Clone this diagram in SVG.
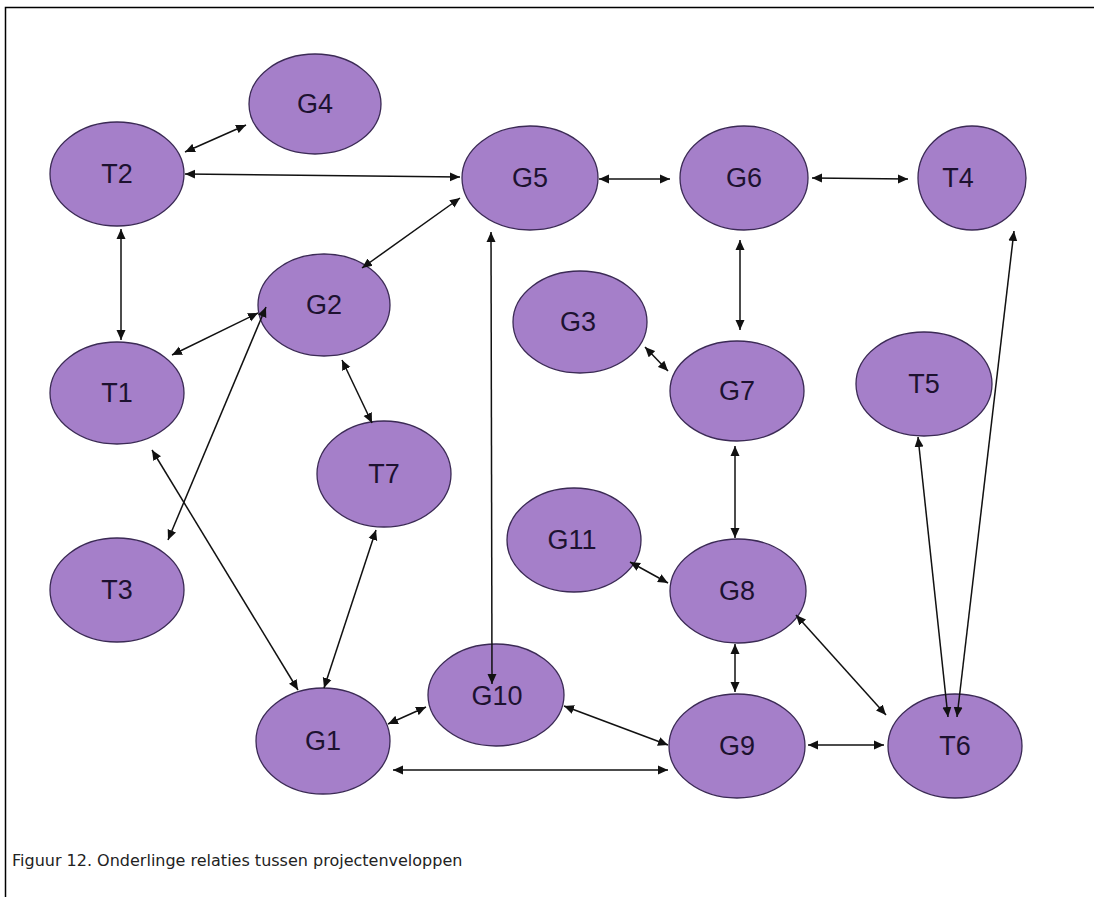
<svg xmlns="http://www.w3.org/2000/svg" width="1094" height="897" viewBox="0 0 1094 897">
  <style>
    .node ellipse { fill: #a57fc9; stroke: #3b2a55; stroke-width: 1.3; }
    .node text { font-family: "Liberation Sans", Arial, sans-serif; font-size: 27px; fill: #1d1230; text-anchor: middle; }
    .links line { stroke: #111; stroke-width: 1.5; marker-start: url(#head); marker-end: url(#head); }
    .caption { font-family: "DejaVu Sans", Verdana, sans-serif; font-size: 16px; fill: #222; }
  </style>
  <defs>
    <marker id="head" viewBox="0 0 10 10" refX="10" refY="5" markerWidth="10" markerHeight="10" markerUnits="userSpaceOnUse" orient="auto-start-reverse">
      <path d="M0,0.5 L10,5 L0,9.5 z" fill="#111"/>
    </marker>
  </defs>
  <rect width="1094" height="897" fill="#fff"/>
  <!-- frame: left and top rules only -->
  <path d="M5.5,897 V7.5 H1094" fill="none" stroke="#000" stroke-width="1.5"/>

  <g id="T2" class="node"><ellipse cx="117" cy="174" rx="67" ry="52"/><text x="117" y="183">T2</text></g>
  <g id="G4" class="node"><ellipse cx="315" cy="104" rx="66" ry="50"/><text x="315" y="113">G4</text></g>
  <g id="G5" class="node"><ellipse cx="530" cy="178" rx="68" ry="52"/><text x="530" y="187">G5</text></g>
  <g id="G6" class="node"><ellipse cx="744" cy="178" rx="64" ry="52"/><text x="744" y="187">G6</text></g>
  <g id="T4" class="node"><ellipse cx="972" cy="178" rx="54" ry="52"/><text x="958" y="187">T4</text></g>
  <g id="G2" class="node"><ellipse cx="324" cy="305" rx="66" ry="51"/><text x="324" y="314">G2</text></g>
  <g id="T1" class="node"><ellipse cx="117" cy="393" rx="67" ry="51"/><text x="117" y="402">T1</text></g>
  <g id="G3" class="node"><ellipse cx="580" cy="322" rx="67" ry="51"/><text x="578" y="331">G3</text></g>
  <g id="G7" class="node"><ellipse cx="737" cy="391" rx="67" ry="50"/><text x="737" y="400">G7</text></g>
  <g id="T5" class="node"><ellipse cx="924" cy="384" rx="68" ry="52"/><text x="924" y="393">T5</text></g>
  <g id="T7" class="node"><ellipse cx="384" cy="474" rx="67" ry="53"/><text x="384" y="483">T7</text></g>
  <g id="T3" class="node"><ellipse cx="117" cy="590" rx="67" ry="52"/><text x="117" y="599">T3</text></g>
  <g id="G11" class="node"><ellipse cx="574" cy="540" rx="67" ry="52"/><text x="572" y="549">G11</text></g>
  <g id="G8" class="node"><ellipse cx="738" cy="591" rx="68" ry="52"/><text x="737" y="600">G8</text></g>
  <g id="G10" class="node"><ellipse cx="496" cy="695" rx="68" ry="51"/><text x="497" y="705">G10</text></g>
  <g id="G1" class="node"><ellipse cx="323" cy="741" rx="67" ry="53"/><text x="323" y="750">G1</text></g>
  <g id="G9" class="node"><ellipse cx="737" cy="746" rx="68" ry="52"/><text x="737" y="755">G9</text></g>
  <g id="T6" class="node"><ellipse cx="955" cy="746" rx="67" ry="52"/><text x="955" y="755">T6</text></g>

  <!-- two-way relations, drawn over the nodes -->
  <g class="links">
    <line x1="185" y1="152" x2="246" y2="125"/>
    <line x1="185" y1="174" x2="460" y2="177"/>
    <line x1="121" y1="229" x2="121" y2="340"/>
    <line x1="460" y1="198" x2="362" y2="268"/>
    <line x1="599" y1="179" x2="670" y2="179"/>
    <line x1="812" y1="178" x2="908" y2="179"/>
    <line x1="740" y1="240" x2="740" y2="330"/>
    <line x1="491" y1="232" x2="492" y2="684"/>
    <line x1="172" y1="355" x2="258" y2="313"/>
    <line x1="266" y1="307" x2="168" y2="540"/>
    <line x1="342" y1="360" x2="372" y2="423"/>
    <line x1="152" y1="450" x2="298" y2="690"/>
    <line x1="376" y1="530" x2="324" y2="688"/>
    <line x1="645" y1="347" x2="668" y2="371"/>
    <line x1="735" y1="446" x2="735" y2="538"/>
    <line x1="630" y1="562" x2="668" y2="583"/>
    <line x1="735" y1="644" x2="735" y2="692"/>
    <line x1="796" y1="615" x2="886" y2="715"/>
    <line x1="918" y1="437" x2="948" y2="717"/>
    <line x1="1014" y1="231" x2="957" y2="717"/>
    <line x1="564" y1="706" x2="668" y2="745"/>
    <line x1="388" y1="724" x2="426" y2="707"/>
    <line x1="393" y1="770" x2="668" y2="770"/>
    <line x1="808" y1="745" x2="884" y2="745"/>
  </g>

  <text class="caption" x="12" y="866">Figuur 12. Onderlinge relaties tussen projectenveloppen</text>
</svg>
